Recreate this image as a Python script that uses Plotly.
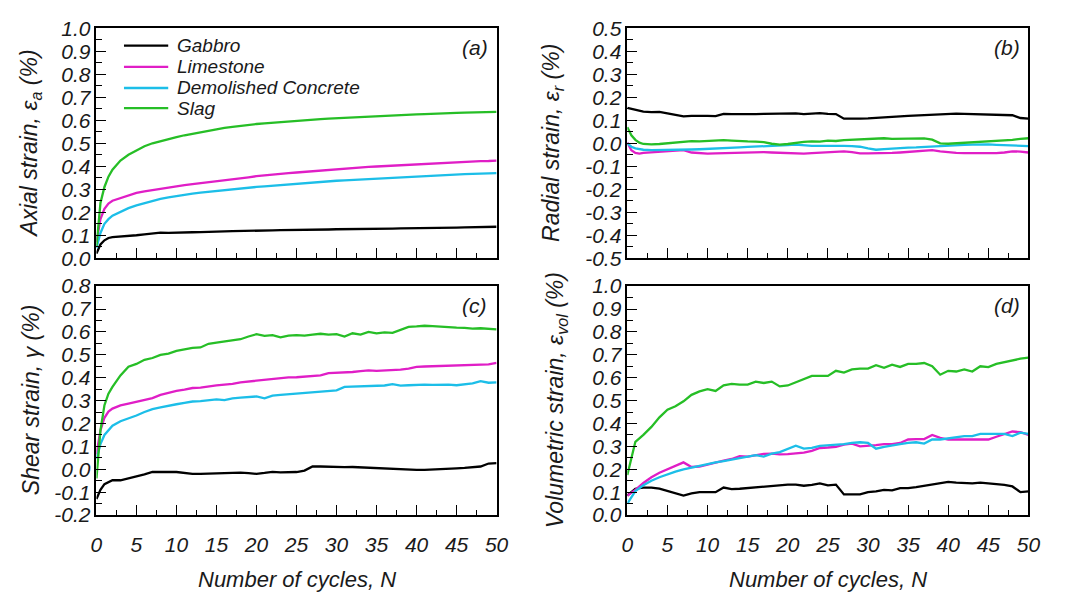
import plotly.graph_objects as go

W, H = 1067, 603

# Cycle grids: dense start for the continuously logged strains, per-cycle for volumetric
N_FINE = [0, 0.25, 0.5, 1, 1.5, 2] + list(range(3, 51))
N_CYCLES = list(range(0, 51))

MATERIALS = ["Gabbro", "Limestone", "Demolished Concrete", "Slag"]
COLORS = ["#000000", "#E01EC6", "#1CBEE8", "#26BE26"]

# (a) Axial strain (%)
AXIAL_GABBRO = [0.02, 0.04, 0.06, 0.078, 0.088, 0.092,
                0.094, 0.097, 0.100, 0.104, 0.109, 0.111, 0.110, 0.112,
                0.112, 0.113, 0.114, 0.114, 0.116, 0.117, 0.118, 0.118, 0.119, 0.120,
                0.120, 0.121, 0.122, 0.122, 0.123, 0.123, 0.122, 0.124, 0.125, 0.126,
                0.126, 0.127, 0.127, 0.128, 0.128, 0.129, 0.129, 0.130, 0.130, 0.131,
                0.131, 0.132, 0.132, 0.133, 0.133, 0.134, 0.134, 0.135, 0.136, 0.137]
AXIAL_LIMESTONE = [0.07, 0.12, 0.17, 0.215, 0.238, 0.250,
                   0.262, 0.274, 0.284, 0.291, 0.297, 0.303, 0.308, 0.313,
                   0.318, 0.322, 0.326, 0.329, 0.334, 0.338, 0.343, 0.347, 0.352, 0.357,
                   0.361, 0.364, 0.367, 0.370, 0.373, 0.376, 0.379, 0.382, 0.385, 0.388,
                   0.391, 0.393, 0.395, 0.397, 0.399, 0.401, 0.403, 0.405, 0.407, 0.409,
                   0.411, 0.413, 0.415, 0.417, 0.419, 0.420, 0.421, 0.422, 0.423, 0.425]
AXIAL_CONCRETE = [0.045, 0.08, 0.11, 0.150, 0.170, 0.185,
                  0.203, 0.218, 0.230, 0.240, 0.250, 0.258, 0.265, 0.271,
                  0.276, 0.281, 0.285, 0.289, 0.292, 0.296, 0.300, 0.304, 0.307, 0.310,
                  0.313, 0.316, 0.319, 0.322, 0.325, 0.328, 0.330, 0.333, 0.335, 0.337,
                  0.339, 0.341, 0.343, 0.345, 0.347, 0.349, 0.351, 0.353, 0.355, 0.357,
                  0.359, 0.360, 0.362, 0.363, 0.365, 0.366, 0.367, 0.368, 0.369, 0.370]
AXIAL_SLAG = [0.05, 0.15, 0.24, 0.310, 0.355, 0.385,
              0.425, 0.450, 0.470, 0.487, 0.500, 0.510, 0.518, 0.527,
              0.535, 0.542, 0.549, 0.556, 0.562, 0.567, 0.571, 0.576, 0.580, 0.584,
              0.587, 0.590, 0.593, 0.596, 0.599, 0.601, 0.603, 0.605, 0.607, 0.609,
              0.611, 0.612, 0.614, 0.616, 0.618, 0.619, 0.621, 0.623, 0.625, 0.626,
              0.627, 0.629, 0.630, 0.631, 0.632, 0.633, 0.634, 0.635, 0.636, 0.637]

# (b) Radial strain (%)
RADIAL_GABBRO = [0.154, 0.152, 0.150, 0.146, 0.142, 0.138,
                 0.136, 0.137, 0.130, 0.122, 0.117, 0.119, 0.120, 0.119,
                 0.118, 0.128, 0.127, 0.126, 0.126, 0.127, 0.128, 0.129, 0.131, 0.131,
                 0.130, 0.127, 0.129, 0.131, 0.128, 0.127, 0.107, 0.106, 0.107, 0.108,
                 0.111, 0.113, 0.114, 0.117, 0.119, 0.121, 0.122, 0.124, 0.126, 0.128,
                 0.129, 0.128, 0.127, 0.127, 0.126, 0.125, 0.124, 0.122, 0.110, 0.107]
RADIAL_LIMESTONE = [0.003, -0.015, -0.030, -0.042, -0.045, -0.042,
                    -0.040, -0.038, -0.036, -0.033, -0.030, -0.040, -0.044, -0.045,
                    -0.044, -0.043, -0.041, -0.040, -0.039, -0.038, -0.038, -0.040, -0.042, -0.044,
                    -0.045, -0.045, -0.043, -0.041, -0.040, -0.038, -0.035, -0.038, -0.044, -0.044,
                    -0.044, -0.043, -0.042, -0.040, -0.038, -0.036, -0.032, -0.030, -0.035, -0.040,
                    -0.042, -0.043, -0.043, -0.044, -0.044, -0.043, -0.040, -0.035, -0.036, -0.040]
RADIAL_CONCRETE = [0.000, -0.008, -0.015, -0.022, -0.026, -0.028,
                   -0.030, -0.030, -0.029, -0.028, -0.027, -0.027, -0.026, -0.025,
                   -0.024, -0.022, -0.020, -0.018, -0.016, -0.015, -0.014, -0.012, -0.010, -0.008,
                   -0.006, -0.009, -0.011, -0.011, -0.010, -0.010, -0.011, -0.012, -0.015, -0.022,
                   -0.028, -0.025, -0.022, -0.020, -0.019, -0.018, -0.016, -0.013, -0.010, -0.009,
                   -0.008, -0.007, -0.006, -0.005, -0.005, -0.007, -0.008, -0.010, -0.011, -0.012]
RADIAL_SLAG = [0.070, 0.050, 0.035, 0.015, 0.003, -0.003,
               -0.005, -0.003, 0.000, 0.003, 0.008, 0.009, 0.008, 0.010,
               0.012, 0.014, 0.012, 0.009, 0.008, 0.007, 0.005, -0.002, -0.006, -0.003,
               0.002, 0.006, 0.008, 0.007, 0.012, 0.010, 0.014, 0.016, 0.015, 0.018,
               0.020, 0.022, 0.019, 0.020, 0.022, 0.023, 0.021, 0.016, 0.000, -0.002,
               0.000, 0.003, 0.002, 0.004, 0.006, 0.008, 0.012, 0.015, 0.019, 0.022]

# (c) Shear strain (%)
SHEAR_GABBRO = [-0.130, -0.110, -0.090, -0.065, -0.055, -0.048,
                -0.048, -0.040, -0.030, -0.022, -0.012, -0.010, -0.011, -0.012,
                -0.016, -0.020, -0.020, -0.019, -0.018, -0.016, -0.016, -0.015, -0.017, -0.020,
                -0.016, -0.011, -0.014, -0.013, -0.012, -0.006, 0.012, 0.012, 0.010, 0.011,
                0.009, 0.010, 0.008, 0.007, 0.005, 0.002, 0.000, 0.000, -0.001, -0.003,
                -0.003, -0.002, 0.000, 0.002, 0.004, 0.006, 0.008, 0.012, 0.025, 0.027]
SHEAR_LIMESTONE = [0.065, 0.120, 0.170, 0.225, 0.252, 0.265,
                   0.279, 0.287, 0.295, 0.305, 0.311, 0.325, 0.335, 0.342,
                   0.348, 0.355, 0.357, 0.360, 0.366, 0.370, 0.373, 0.380, 0.384, 0.388,
                   0.392, 0.396, 0.400, 0.401, 0.402, 0.404, 0.406, 0.410, 0.420, 0.421,
                   0.422, 0.425, 0.429, 0.432, 0.430, 0.431, 0.433, 0.435, 0.440, 0.447,
                   0.449, 0.450, 0.452, 0.454, 0.455, 0.455, 0.455, 0.455, 0.458, 0.465]
SHEAR_CONCRETE = [0.045, 0.080, 0.110, 0.150, 0.172, 0.190,
                  0.210, 0.222, 0.235, 0.250, 0.263, 0.270, 0.278, 0.284,
                  0.290, 0.296, 0.298, 0.301, 0.305, 0.302, 0.310, 0.313, 0.315, 0.318,
                  0.310, 0.322, 0.325, 0.328, 0.330, 0.333, 0.336, 0.338, 0.340, 0.345,
                  0.360, 0.361, 0.362, 0.363, 0.365, 0.366, 0.372, 0.365, 0.367, 0.370,
                  0.370, 0.369, 0.370, 0.370, 0.367, 0.372, 0.375, 0.385, 0.378, 0.380]
SHEAR_SLAG = [-0.040, 0.060, 0.170, 0.280, 0.330, 0.360,
              0.410, 0.448, 0.460, 0.478, 0.486, 0.500, 0.505, 0.517,
              0.524, 0.530, 0.532, 0.548, 0.553, 0.558, 0.562, 0.568, 0.580, 0.590,
              0.583, 0.586, 0.576, 0.584, 0.586, 0.584, 0.588, 0.592, 0.588, 0.590,
              0.580, 0.594, 0.588, 0.600, 0.594, 0.598, 0.596, 0.610, 0.622, 0.624,
              0.627, 0.625, 0.622, 0.621, 0.619, 0.618, 0.614, 0.616, 0.613, 0.611]

# (d) Volumetric strain (%), one value per cycle
VOL_GABBRO = [0.085, 0.115, 0.120, 0.120, 0.115, 0.105, 0.095, 0.085, 0.095, 0.100,
              0.100, 0.100, 0.120, 0.113, 0.115, 0.118, 0.120, 0.125, 0.127, 0.128,
              0.133, 0.133, 0.128, 0.132, 0.138, 0.130, 0.133, 0.090, 0.090, 0.090,
              0.100, 0.103, 0.110, 0.108, 0.118, 0.118, 0.122, 0.128, 0.135, 0.138,
              0.145, 0.142, 0.140, 0.138, 0.142, 0.140, 0.135, 0.132, 0.125, 0.100,
              0.103]
VOL_LIMESTONE = [0.085, 0.110, 0.140, 0.165, 0.185, 0.200, 0.213, 0.230, 0.210, 0.212,
                 0.220, 0.230, 0.238, 0.245, 0.257, 0.255, 0.262, 0.267, 0.268, 0.265,
                 0.266, 0.268, 0.273, 0.280, 0.293, 0.295, 0.298, 0.308, 0.312, 0.300,
                 0.302, 0.305, 0.310, 0.310, 0.315, 0.330, 0.332, 0.332, 0.350, 0.337,
                 0.330, 0.330, 0.333, 0.333, 0.333, 0.330, 0.342, 0.355, 0.365, 0.362,
                 0.350]
VOL_CONCRETE = [0.050, 0.105, 0.130, 0.150, 0.165, 0.178, 0.190, 0.200, 0.208, 0.215,
                0.222, 0.230, 0.236, 0.242, 0.248, 0.255, 0.262, 0.255, 0.268, 0.275,
                0.290, 0.303, 0.290, 0.293, 0.302, 0.305, 0.305, 0.310, 0.315, 0.318,
                0.315, 0.290, 0.298, 0.305, 0.310, 0.315, 0.318, 0.312, 0.330, 0.330,
                0.335, 0.342, 0.345, 0.345, 0.355, 0.355, 0.355, 0.355, 0.345, 0.360,
                0.355]
VOL_SLAG = [0.175, 0.320, 0.350, 0.385, 0.427, 0.460, 0.475, 0.497, 0.525, 0.540,
            0.550, 0.542, 0.567, 0.573, 0.570, 0.570, 0.583, 0.577, 0.583, 0.562,
            0.566, 0.580, 0.594, 0.608, 0.608, 0.608, 0.630, 0.622, 0.636, 0.640,
            0.640, 0.655, 0.643, 0.657, 0.647, 0.660, 0.660, 0.664, 0.650, 0.613,
            0.630, 0.627, 0.636, 0.627, 0.650, 0.646, 0.660, 0.668, 0.677, 0.683,
            0.688]

Y_TICKS_A = [0.0, 0.1, 0.2, 0.3, 0.4, 0.5, 0.6, 0.7, 0.8, 0.9, 1.0]
Y_TICKS_B = [-0.5, -0.4, -0.3, -0.2, -0.1, 0.0, 0.1, 0.2, 0.3, 0.4, 0.5]
Y_TICKS_C = [-0.2, -0.1, 0.0, 0.1, 0.2, 0.3, 0.4, 0.5, 0.6, 0.7, 0.8]
Y_TICKS_D = [0.0, 0.1, 0.2, 0.3, 0.4, 0.5, 0.6, 0.7, 0.8, 0.9, 1.0]
X_TICKS = [0, 5, 10, 15, 20, 25, 30, 35, 40, 45, 50]

panels = [
    dict(key="", x=N_FINE, series=[AXIAL_GABBRO, AXIAL_LIMESTONE, AXIAL_CONCRETE, AXIAL_SLAG],
         yticks=Y_TICKS_A, label="(a)",
         title="Axial strain, <i>ε</i><sub>a</sub> (%)"),
    dict(key="2", x=N_FINE, series=[RADIAL_GABBRO, RADIAL_LIMESTONE, RADIAL_CONCRETE, RADIAL_SLAG],
         yticks=Y_TICKS_B, label="(b)",
         title="Radial strain, <i>ε</i><sub>r</sub> (%)"),
    dict(key="3", x=N_FINE, series=[SHEAR_GABBRO, SHEAR_LIMESTONE, SHEAR_CONCRETE, SHEAR_SLAG],
         yticks=Y_TICKS_C, label="(c)",
         title="Shear strain, <i>γ</i> (%)"),
    dict(key="4", x=N_CYCLES, series=[VOL_GABBRO, VOL_LIMESTONE, VOL_CONCRETE, VOL_SLAG],
         yticks=Y_TICKS_D, label="(d)",
         title="Volumetric strain, <i>ε</i><sub>vol</sub> (%)"),
]

# Plot-area boxes in pixels: (left, top, right, bottom)
BOXES = [(92, 17, 499, 256), (632, 17, 1040, 256),
         (92, 285, 499, 523), (632, 285, 1040, 523)]
TITLE_X = [25, 556, 25, 560]

FONT = "Liberation Sans, Arial, sans-serif"
TEXT_COLOR = "#1a1a1a"
TICK_SIZE = 21


def italic(size):
    return dict(family=FONT, size=size, style="italic", color=TEXT_COLOR)


fig = go.Figure()
layout = dict(
    width=W, height=H, margin=dict(l=0, r=0, t=0, b=0),
    paper_bgcolor="white", plot_bgcolor="white",
    font=italic(18),
    showlegend=False,
)
annotations = []
shapes = []

for i, p in enumerate(panels):
    k = p["key"]
    left, top, right, bottom = BOXES[i]
    xdom = [left / W, right / W]
    ydom = [1 - bottom / H, 1 - top / H]
    for j, ys in enumerate(p["series"]):
        fig.add_trace(go.Scatter(
            x=p["x"], y=ys, mode="lines", name=MATERIALS[j],
            line=dict(color=COLORS[j], width=2.3),
            xaxis="x" + k, yaxis="y" + k,
        ))
    yt = p["yticks"]
    layout["xaxis" + k] = dict(
        domain=xdom, anchor="y" + k, range=[0, 50],
        tickvals=X_TICKS, ticks="inside", ticklen=10, tickwidth=1.3, tickcolor="black",
        minor=dict(dtick=2.5, tick0=0, ticks="inside", ticklen=5, tickwidth=1.3, tickcolor="black"),
        showticklabels=(i >= 2), ticklabelstandoff=10,
        tickfont=italic(TICK_SIZE),
        showline=True, linecolor="black", linewidth=1.6, mirror=True,
        showgrid=False, zeroline=False,
    )
    layout["yaxis" + k] = dict(
        domain=ydom, anchor="x" + k, range=[yt[0], yt[-1]],
        tickvals=yt, ticktext=[f"{v:.1f}" for v in yt],
        ticks="inside", ticklen=10, tickwidth=1.3, tickcolor="black",
        minor=dict(dtick=0.05, tick0=0, ticks="inside", ticklen=6, tickwidth=1.3, tickcolor="black"),
        tickfont=italic(TICK_SIZE),
        showline=True, linecolor="black", linewidth=1.6, mirror=True,
        showgrid=False, zeroline=False,
    )
    # y-axis title
    annotations.append(dict(
        text=p["title"], xref="paper", yref="paper",
        x=TITLE_X[i] / W, y=1 - (top + bottom) / 2 / H,
        xanchor="center", yanchor="middle", textangle=-90, showarrow=False,
        font=italic(23),
    ))
    # panel tag
    annotations.append(dict(
        text=p["label"], xref="paper", yref="paper",
        x=(right - 22) / W, y=1 - (top + 20) / H,
        xanchor="center", yanchor="middle", showarrow=False,
        font=italic(21),
    ))
    if i >= 2:
        annotations.append(dict(
            text="Number of cycles, <i>N</i>", xref="paper", yref="paper",
            x=(left + right) / 2 / W, y=1 - 590 / H,
            xanchor="center", yanchor="middle", showarrow=False,
            font=italic(22),
        ))

# Key for the four materials, placed inside panel (a)
LEGEND_ROWS = [35, 57, 79, 100]
for j, name in enumerate(MATERIALS):
    yy = 1 - LEGEND_ROWS[j] / H
    shapes.append(dict(type="line", xref="paper", yref="paper",
                       x0=120 / W, x1=165 / W, y0=yy, y1=yy,
                       line=dict(color=COLORS[j], width=2.3)))
    annotations.append(dict(
        text=name, xref="paper", yref="paper", x=172 / W, y=yy,
        xanchor="left", yanchor="middle", showarrow=False, font=italic(19),
    ))

layout["annotations"] = annotations
layout["shapes"] = shapes
fig.update_layout(**layout)
fig.write_html("out.html")
